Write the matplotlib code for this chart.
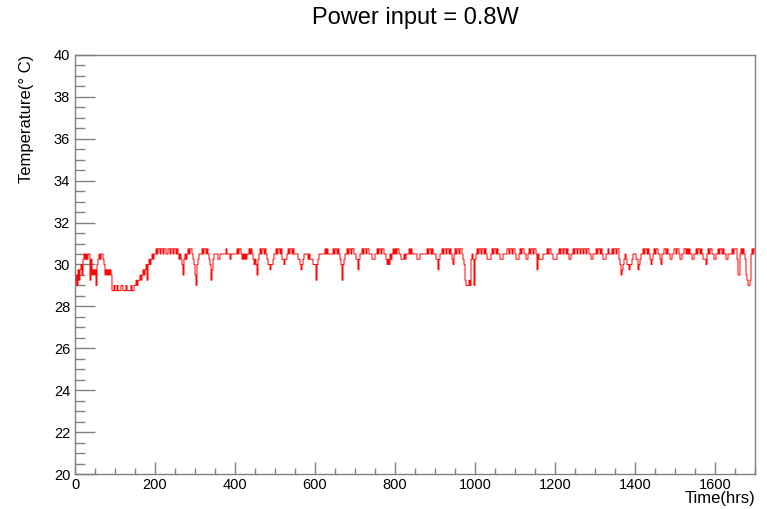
import numpy as np
import matplotlib
matplotlib.use('Agg')
import matplotlib.pyplot as plt
from matplotlib.ticker import MultipleLocator

plt.rcParams['font.family'] = ['Liberation Sans', 'DejaVu Sans']

TITLE = 'Power input = 0.8W'
X_LABEL = 'Time(hrs)'
Y_LABEL = 'Temperature(° C)'

# logger sampling interval, hours
sample_step = 2.5
# very first reading of the run is off-scale (sensor start-up value)
first_reading = 85.0
# sensor resolution: quarter-degree levels
levels = [28.75, 29.0, 29.25, 29.5, 29.75, 30.0, 30.25, 30.5, 30.75]
# one string per 100 hours, one digit per sample (index into levels)
readings = [
    "1314245367" "6767726343" "4156767765" "3434343001",
    "0010001100" "0100001001" "1212232343" "4525656767",
    "7878878878" "8778878878" "8787676536" "7678788765",
    "3156777878" "8787652467" "7776677777" "7877767777",
    "7787887676" "7677878765" "6536787887" "8765545567",
    "7878878665" "6678788787" "7776654567" "7776766655",
    "5256777777" "8787777787" "8878765256" "7787887887",
    "7664677878" "8788777666" "7787887887" "7656576787",
    "8788776667" "6777878777" "7766677777" "7787887877",
    "7664677878" "8788787657" "8788788765" "2111216761",
    "6787887887" "8766667878" "8787766677" "7788788788",
    "7666787887" "7667878878" "8747666677" "7787887766",
    "6677878878" "8787667787" "8878878878" "8788776677",
    "7878878766" "6778777878" "8788653456" "7655455677",
    "7664567787" "8878765678" "7887765778" "8787766778",
    "8788766778" "8787877667" "7878878766" "6578788776",
    "6778788787" "7667777878" "8863378787" "63211278788",
]


def load_series():
    temps = [levels[int(c)] for row in readings for c in row]
    times = np.arange(len(temps)) * sample_step
    times = np.concatenate([[0.0], times])
    temps = np.concatenate([[first_reading], temps])
    return times, temps


def make_plot(times, temps):
    fig = plt.figure(figsize=(7.67, 5.09), dpi=100)
    ax = fig.add_axes([75 / 767, 1 - 474 / 509, 680 / 767, 419 / 509])

    ax.plot(times, temps, color='red', lw=0.7, drawstyle='steps-post')

    ax.set_xlim(0, 1700)
    ax.set_ylim(20, 40)

    grey = '#808080'
    for sp in ax.spines.values():
        sp.set_color(grey)
        sp.set_linewidth(1.0)

    ax.xaxis.set_major_locator(MultipleLocator(200))
    ax.xaxis.set_minor_locator(MultipleLocator(50))
    ax.yaxis.set_major_locator(MultipleLocator(2))
    ax.yaxis.set_minor_locator(MultipleLocator(0.5))

    ax.tick_params(which='both', direction='in', top=False, right=False,
                   color=grey, width=1.0, labelsize=10.5, labelcolor='black')
    ax.tick_params(axis='x', which='major', length=9, pad=3)
    ax.tick_params(axis='x', which='minor', length=4.5)
    ax.tick_params(axis='y', which='major', length=14.5, pad=3.5)
    ax.tick_params(axis='y', which='minor', length=7.3)

    ax.set_xlabel(X_LABEL, fontsize=12, loc='right')
    ax.xaxis.set_label_coords(1.0, -0.04)
    ax.set_ylabel(Y_LABEL, fontsize=12, loc='top')
    ax.yaxis.set_label_coords(-0.06, 1.0)

    # title centred over the frame, not the whole canvas
    fig.text(415 / 767, 1 - 18 / 509, TITLE, ha='center', va='center', fontsize=17)

    fig.savefig('out.png', dpi=100)


if __name__ == "__main__":
    times, temps = load_series()
    make_plot(times, temps)
